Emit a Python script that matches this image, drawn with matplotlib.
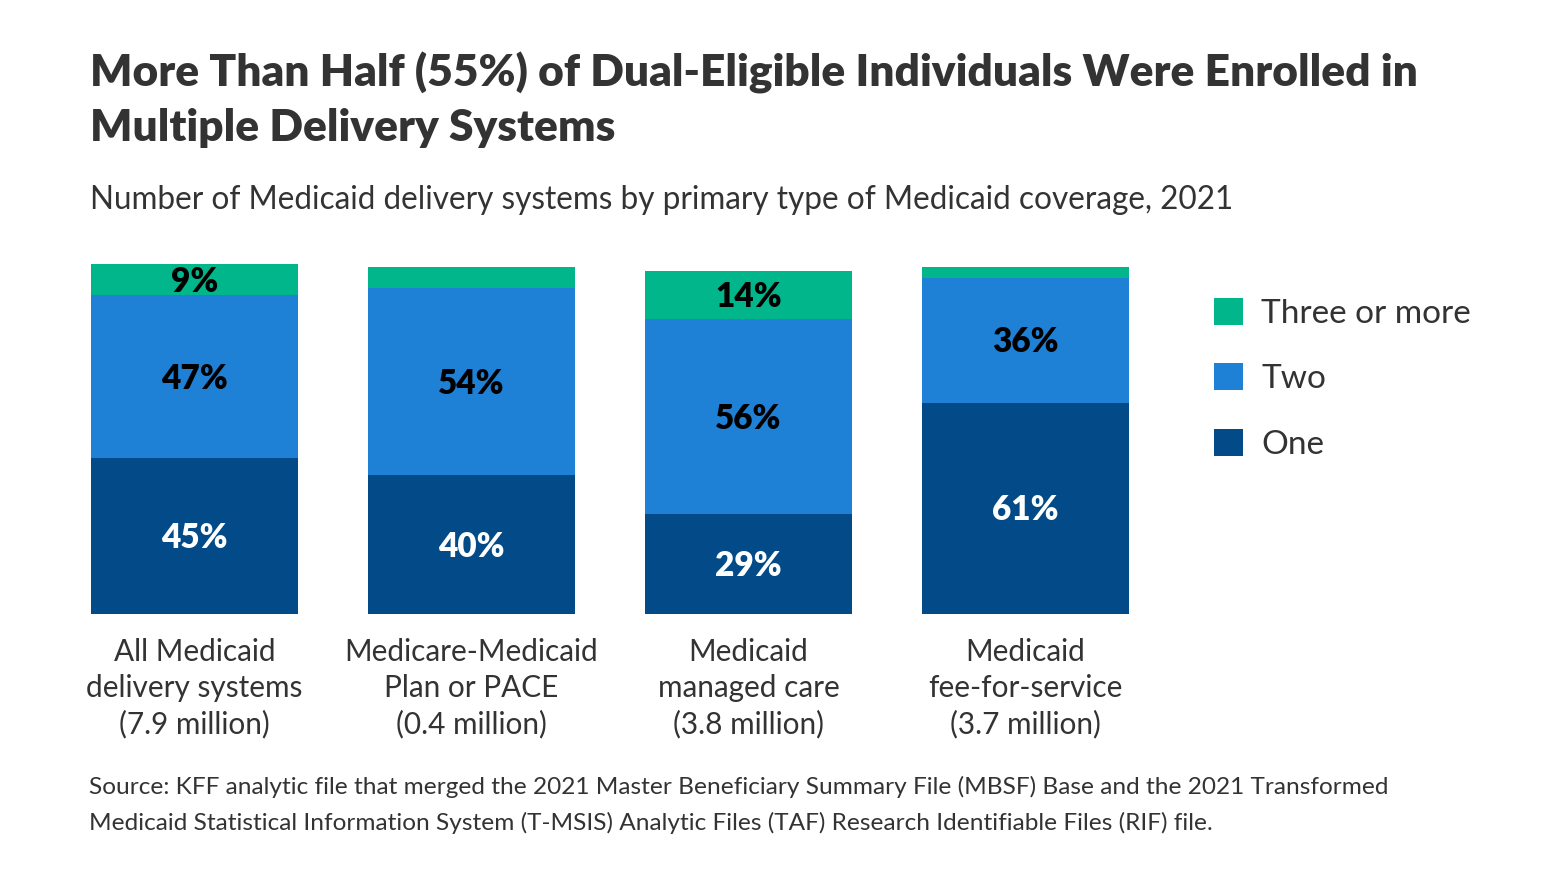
import matplotlib
matplotlib.use("Agg")
import matplotlib.pyplot as plt
from matplotlib.patches import Patch

plt.rcParams["font.family"] = ["Lato", "DejaVu Sans"]

# ---- data ----
categories = [
    "All Medicaid\ndelivery systems\n(7.9 million)",
    "Medicare-Medicaid\nPlan or PACE\n(0.4 million)",
    "Medicaid\nmanaged care\n(3.8 million)",
    "Medicaid\nfee-for-service\n(3.7 million)",
]
one = [45, 40, 29, 61]
two = [47, 54, 56, 36]
three = [9, 6, 14, 3]
one_labels = ["45%", "40%", "29%", "61%"]
two_labels = ["47%", "54%", "56%", "36%"]
three_labels = ["9%", "", "14%", ""]
series_names = ["One", "Two", "Three or more"]

title_lines = ["More Than Half (55%) of Dual-Eligible Individuals Were Enrolled in",
               "Multiple Delivery Systems"]
subtitle = "Number of Medicaid delivery systems by primary type of Medicaid coverage, 2021"
source_lines = [
    "Source: KFF analytic file that merged the 2021 Master Beneficiary Summary File (MBSF) Base and the 2021 Transformed",
    "Medicaid Statistical Information System (T-MSIS) Analytic Files (TAF) Research Identifiable Files (RIF) file.",
]

# ---- style ----
C_ONE = "#024B88"
C_TWO = "#1E81D6"
C_THREE = "#00B68A"
TXT = "#333333"

W, H = 1568, 882
fig = plt.figure(figsize=(W / 100, H / 100), dpi=100)
fig.patch.set_facecolor("white")

def fx(px):
    return px / W

def fy(py):
    return 1 - py / H

ax_left, ax_right, ax_top, ax_bot = 91, 1129, 264, 614
ax = fig.add_axes([fx(ax_left), fy(ax_bot), fx(ax_right - ax_left), (ax_bot - ax_top) / H])

x = list(range(len(categories)))
bw = 0.747
half = bw / 2
ax.set_xlim(-half, len(categories) - 1 + half)
ax.set_ylim(0, 101)

bottom2 = one
bottom3 = [a + b for a, b in zip(one, two)]
ax.bar(x, one, width=bw, color=C_ONE, label=series_names[0], linewidth=0)
ax.bar(x, two, width=bw, bottom=bottom2, color=C_TWO, label=series_names[1], linewidth=0)
ax.bar(x, three, width=bw, bottom=bottom3, color=C_THREE, label=series_names[2], linewidth=0)

lab_fs = 24
off = -0.6  # small downward nudge, data units
for i in x:
    ax.text(i, one[i] / 2 + off, one_labels[i], ha="center", va="center", color="white",
            fontsize=lab_fs, fontweight="heavy")
    ax.text(i, one[i] + two[i] / 2 + off, two_labels[i], ha="center", va="center", color="black",
            fontsize=lab_fs, fontweight="heavy")
    if three_labels[i]:
        ax.text(i, bottom3[i] + three[i] / 2 + off, three_labels[i], ha="center", va="center",
                color="black", fontsize=lab_fs, fontweight="heavy")

for s in ax.spines.values():
    s.set_visible(False)
ax.set_yticks([])
ax.set_xticks(x)
ax.set_xticklabels(categories, fontsize=21.4, color=TXT, linespacing=1.35)
ax.tick_params(axis="x", length=0, pad=17)

handles = [Patch(facecolor=C_THREE, label=series_names[2]),
           Patch(facecolor=C_TWO, label=series_names[1]),
           Patch(facecolor=C_ONE, label=series_names[0])]
leg = ax.legend(handles=handles, loc="upper left", bbox_to_anchor=(fx(1214), fy(298)),
                bbox_transform=fig.transFigure, frameon=False, fontsize=24,
                handlelength=0.87, handleheight=0.87, handletextpad=0.55,
                labelspacing=1.03, borderpad=0, borderaxespad=0)
for t in leg.get_texts():
    t.set_color(TXT)

for yb, line in zip([86, 141], title_lines):
    fig.text(fx(90), fy(yb), line, ha="left", va="baseline", fontsize=31.9,
             fontweight="heavy", color=TXT)
fig.text(fx(90), fy(209), subtitle, ha="left", va="baseline", fontsize=22.7, color=TXT)
for yb, line in zip([794, 830], source_lines):
    fig.text(fx(89), fy(yb), line, ha="left", va="baseline", fontsize=17.55, color=TXT)

fig.savefig("out.png", dpi=100, facecolor="white")
